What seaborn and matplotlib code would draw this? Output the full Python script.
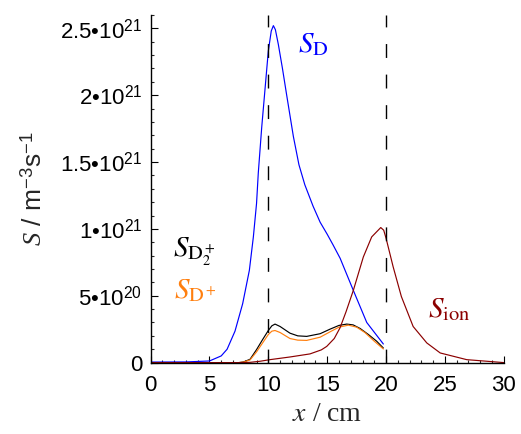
import matplotlib
matplotlib.use("Agg")
import matplotlib.pyplot as plt
from matplotlib.ticker import MultipleLocator
import numpy as np
import pandas as pd
import seaborn as sns

# Source rates, in units of 1e21 m^-3 s^-1, versus position x in cm
x_D = [0, 3, 5, 6.0, 6.5, 7.17, 7.82, 8.39, 8.73, 9.0, 9.15, 9.44, 10.0, 10.25,
       10.43, 10.6, 10.85, 11.2, 11.56, 12.13, 12.6, 13.1, 13.8, 14.4, 15.0,
       15.5, 16.1, 17.22, 18.36, 19.77]
S_D = [0.004, 0.005, 0.012, 0.05, 0.10, 0.235, 0.44, 0.69, 0.94, 1.19, 1.42,
       1.76, 2.33, 2.48, 2.52, 2.49, 2.38, 2.2, 2.0, 1.69, 1.48, 1.33, 1.17,
       1.05, 0.96, 0.88, 0.78, 0.54, 0.30, 0.139]

x_D2p = [0, 7.5, 7.9, 8.45, 9.0, 9.5, 10.0, 10.3, 10.57, 11.0, 11.84, 12.5,
         13.26, 14.4, 15.24, 16.0, 16.66, 17.2, 17.8, 18.5, 19.2, 19.77]
S_D2p = [0, 0, 0.005, 0.025, 0.097, 0.17, 0.24, 0.275, 0.288, 0.27, 0.22,
         0.20, 0.196, 0.216, 0.25, 0.278, 0.288, 0.282, 0.255, 0.21, 0.16,
         0.109]

x_Dp = [0, 7.5, 7.9, 8.45, 9.0, 9.5, 10.0, 10.3, 10.57, 11.0, 11.84, 12.5,
        13.26, 14.4, 15.24, 16.0, 16.8, 17.5, 18.2, 19.0, 19.77]
S_Dp = [0, 0, 0.004, 0.02, 0.08, 0.145, 0.21, 0.235, 0.24, 0.225, 0.18,
        0.168, 0.166, 0.19, 0.23, 0.265, 0.28, 0.265, 0.225, 0.16, 0.102]

x_ion = [0, 7.5, 8.45, 9.3, 10.14, 11.84, 13.54, 14.5, 14.96, 15.6, 16.09,
         16.6, 17.22, 18.07, 18.78, 19.55, 19.8, 20.0, 20.6, 21.3, 22.3,
         23.46, 24.6, 26.85, 30]
S_ion = [0, 0, 0.002, 0.01, 0.022, 0.042, 0.065, 0.095, 0.121, 0.18, 0.26,
         0.38, 0.54, 0.79, 0.94, 1.01, 0.99, 0.93, 0.717, 0.494, 0.27, 0.147,
         0.072, 0.022, 0]

UNIT = 1e21

y_ticks = [0, 0.5, 1.0, 1.5, 2.0, 2.5]
y_tick_labels = ["0", "5\u202210$^{20}$", "1\u202210$^{21}$",
                 "1.5\u202210$^{21}$", "2\u202210$^{21}$", "2.5\u202210$^{21}$"]
x_ticks = [0, 5, 10, 15, 20, 25, 30]
x_tick_labels = ["0", "5", "10", "15", "20", "25", "30"]
boundaries = [10, 20]

sns.set_style("ticks")
plt.rcParams["font.family"] = ["Liberation Sans", "DejaVu Sans"]
plt.rcParams["mathtext.fontset"] = "custom"
plt.rcParams["mathtext.rm"] = "Liberation Sans"
plt.rcParams["mathtext.it"] = "Liberation Serif:italic"

fig = plt.figure(figsize=(5.21, 4.34), dpi=100)
ax = fig.add_axes([0.289, 0.1636, 0.678, 0.802])

series = [
    (x_D2p, S_D2p, "black"),
    (x_Dp, S_Dp, "#ff7f0e"),
    (x_D, S_D, "#0000ff"),
    (x_ion, S_ion, "#8b0000"),
]
for xs, ys, col in series:
    df = pd.DataFrame({"x": xs, "S": np.asarray(ys) * UNIT})
    sns.lineplot(data=df, x="x", y="S", color=col, lw=0.85, ax=ax,
                 estimator=None, sort=False)

for xb in boundaries:
    ax.axvline(xb, color="black", lw=1.0, ls=(0, (10, 12)))

ax.set_xlim(0, 30)
ax.set_ylim(-0.003 * UNIT, 2.60 * UNIT)
ax.set_xticks(x_ticks)
ax.set_xticklabels(x_tick_labels)
ax.set_yticks([v * UNIT for v in y_ticks])
ax.set_yticklabels(y_tick_labels)
ax.xaxis.set_minor_locator(MultipleLocator(1))
ax.yaxis.set_minor_locator(MultipleLocator(0.1 * UNIT))

for s in ["top", "right"]:
    ax.spines[s].set_visible(False)
for s in ["left", "bottom"]:
    ax.spines[s].set_color("black")
    ax.spines[s].set_linewidth(1.0)

ax.tick_params(which="major", direction="in", length=5, width=0.8,
               labelsize=16, colors="black")
ax.tick_params(which="minor", direction="in", length=2.4, width=0.8)
ax.tick_params(axis="x", pad=9)
ax.tick_params(axis="y", pad=6)

ax.set_ylabel(r"$\mathit{S}$ / m$^{-3}$s$^{-1}$", fontsize=19, labelpad=10)
ax.set_xlabel(r"$x$ / cm", fontsize=20, family="Liberation Serif",
              math_fontfamily="stix", labelpad=4)

ann = dict(family="Liberation Serif", math_fontfamily="stix", fontsize=21)
ax.text(12.5, 2.32 * UNIT, r"$S_{\mathrm{D}}$", color="#0000ff", **ann)
ax.text(23.6, 0.34 * UNIT, r"$S_{\mathrm{ion}}$", color="#8b0000", **ann)
ax.text(1.9, 0.79 * UNIT, r"$S_{\mathrm{D}_2^+}$", color="black", **ann)
ax.text(2.0, 0.48 * UNIT, r"$S_{\mathrm{D}^+}$", color="#ff7f0e", **ann)

fig.savefig("out.png", dpi=100)
